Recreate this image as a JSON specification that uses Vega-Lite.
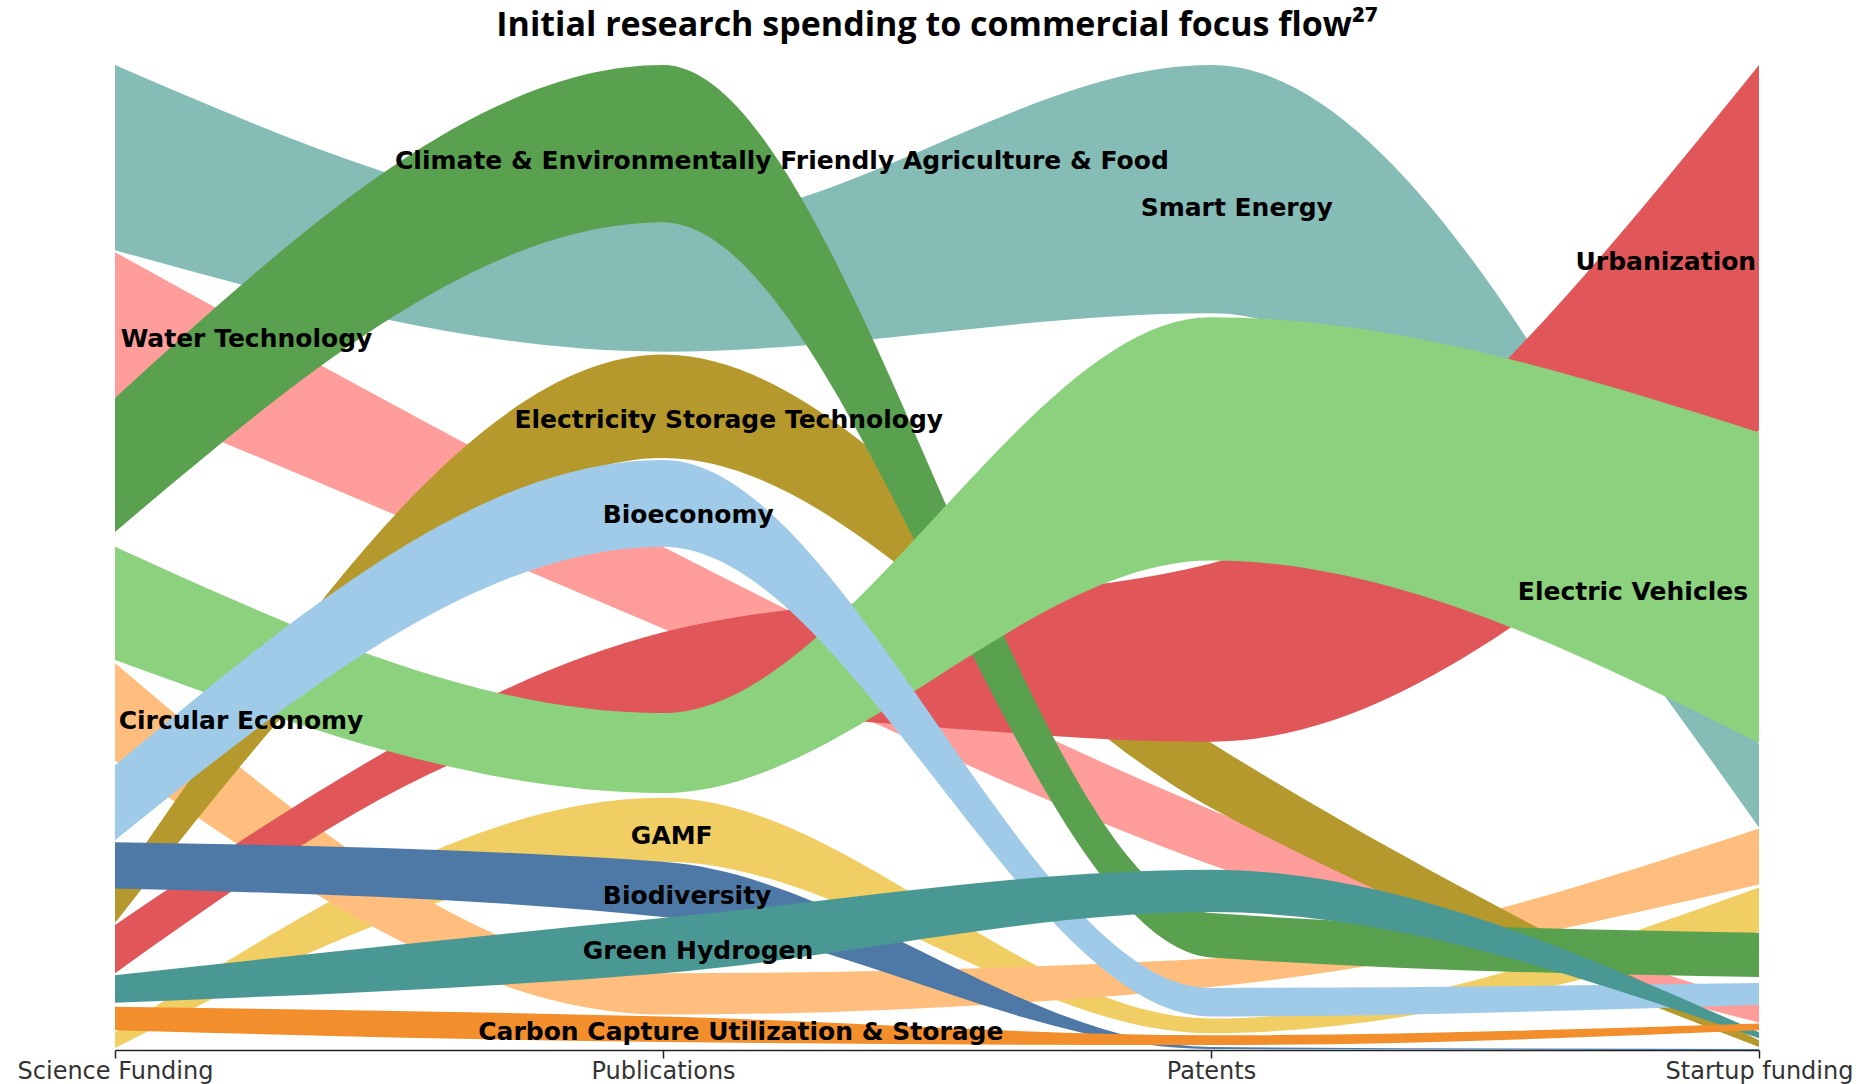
{
  "$schema": "https://vega.github.io/schema/vega-lite/v6.json",
  "width": 1644,
  "height": 985,
  "autosize": {"type": "none"},
  "padding": {"top": 65, "left": 115, "right": 114, "bottom": 34},
  "background": "white",
  "title": {
    "text": "Initial research spending to commercial focus flow²⁷",
    "font": "Open Sans",
    "fontSize": 34,
    "fontWeight": "bold",
    "color": "#000000",
    "anchor": "middle",
    "baseline": "alphabetic",
    "offset": -5
  },
  "config": {"view": {"stroke": null}},
  "datasets": {
    "flows": [
      {"focus": "Smart Energy", "stage": 0, "high": 100, "low": 81.2},
      {"focus": "Smart Energy", "stage": 1, "high": 84.0, "low": 70.9},
      {"focus": "Smart Energy", "stage": 2, "high": 100, "low": 74.8},
      {"focus": "Smart Energy", "stage": 3, "high": 31.0, "low": 22.6},
      {"focus": "GAMF", "stage": 0, "high": 1.8, "low": 0.2},
      {"focus": "GAMF", "stage": 1, "high": 25.6, "low": 19.1},
      {"focus": "GAMF", "stage": 2, "high": 3.2, "low": 1.7},
      {"focus": "GAMF", "stage": 3, "high": 16.5, "low": 12.0},
      {"focus": "Circular Economy", "stage": 0, "high": 39.3, "low": 29.4},
      {"focus": "Circular Economy", "stage": 1, "high": 7.8, "low": 3.6},
      {"focus": "Circular Economy", "stage": 2, "high": 9.3, "low": 6.4},
      {"focus": "Circular Economy", "stage": 3, "high": 22.5, "low": 16.8},
      {"focus": "Water Technology", "stage": 0, "high": 81.0, "low": 66.3},
      {"focus": "Water Technology", "stage": 1, "high": 51.1, "low": 42.8},
      {"focus": "Water Technology", "stage": 2, "high": 24.4, "low": 18.8},
      {"focus": "Water Technology", "stage": 3, "high": 4.6, "low": 2.8},
      {"focus": "Electricity Storage Technology", "stage": 0, "high": 16.4, "low": 12.9},
      {"focus": "Electricity Storage Technology", "stage": 1, "high": 70.6, "low": 60.1},
      {"focus": "Electricity Storage Technology", "stage": 2, "high": 31.2, "low": 24.6},
      {"focus": "Electricity Storage Technology", "stage": 3, "high": 1.0, "low": 0.3},
      {"focus": "Urbanization", "stage": 0, "high": 12.7, "low": 7.8},
      {"focus": "Urbanization", "stage": 1, "high": 42.4, "low": 34.2},
      {"focus": "Urbanization", "stage": 2, "high": 49.4, "low": 31.3},
      {"focus": "Urbanization", "stage": 3, "high": 100, "low": 62.9},
      {"focus": "Climate & Environmentally Friendly Agriculture & Food", "stage": 0, "high": 66.2, "low": 52.6},
      {"focus": "Climate & Environmentally Friendly Agriculture & Food", "stage": 1, "high": 100, "low": 84.0},
      {"focus": "Climate & Environmentally Friendly Agriculture & Food", "stage": 2, "high": 13.9, "low": 9.4},
      {"focus": "Climate & Environmentally Friendly Agriculture & Food", "stage": 3, "high": 11.9, "low": 7.4},
      {"focus": "Electric Vehicles", "stage": 0, "high": 51.1, "low": 39.6},
      {"focus": "Electric Vehicles", "stage": 1, "high": 34.2, "low": 26.1},
      {"focus": "Electric Vehicles", "stage": 2, "high": 74.4, "low": 49.7},
      {"focus": "Electric Vehicles", "stage": 3, "high": 62.7, "low": 31.2},
      {"focus": "Bioeconomy", "stage": 0, "high": 28.9, "low": 21.3},
      {"focus": "Bioeconomy", "stage": 1, "high": 59.9, "low": 51.1},
      {"focus": "Bioeconomy", "stage": 2, "high": 6.3, "low": 3.4},
      {"focus": "Bioeconomy", "stage": 3, "high": 6.8, "low": 4.6},
      {"focus": "Biodiversity", "stage": 0, "high": 21.1, "low": 16.4},
      {"focus": "Biodiversity", "stage": 1, "high": 19.1, "low": 13.5},
      {"focus": "Biodiversity", "stage": 2, "high": 0.3, "low": 0.1},
      {"focus": "Biodiversity", "stage": 3, "high": 0.1, "low": 0.0},
      {"focus": "Green Hydrogen", "stage": 0, "high": 7.6, "low": 4.8},
      {"focus": "Green Hydrogen", "stage": 1, "high": 13.4, "low": 7.8},
      {"focus": "Green Hydrogen", "stage": 2, "high": 18.3, "low": 14.0},
      {"focus": "Green Hydrogen", "stage": 3, "high": 1.8, "low": 1.2},
      {"focus": "Carbon Capture Utilization & Storage", "stage": 0, "high": 4.4, "low": 2.0},
      {"focus": "Carbon Capture Utilization & Storage", "stage": 1, "high": 3.4, "low": 0.8},
      {"focus": "Carbon Capture Utilization & Storage", "stage": 2, "high": 1.5, "low": 0.5},
      {"focus": "Carbon Capture Utilization & Storage", "stage": 3, "high": 2.7, "low": 2.0}
    ],
    "labels": [
      {"label": "Climate & Environmentally Friendly Agriculture & Food", "lx": 1.217, "ly": 90.3},
      {"label": "Smart Energy", "lx": 2.047, "ly": 85.5},
      {"label": "Urbanization", "lx": 2.83, "ly": 80.0},
      {"label": "Water Technology", "lx": 0.24, "ly": 72.2},
      {"label": "Electricity Storage Technology", "lx": 1.12, "ly": 64.0},
      {"label": "Bioeconomy", "lx": 1.046, "ly": 54.3},
      {"label": "Electric Vehicles", "lx": 2.77, "ly": 46.5},
      {"label": "Circular Economy", "lx": 0.23, "ly": 33.4},
      {"label": "GAMF", "lx": 1.016, "ly": 21.7},
      {"label": "Biodiversity", "lx": 1.044, "ly": 15.6},
      {"label": "Green Hydrogen", "lx": 1.064, "ly": 10.1},
      {"label": "Carbon Capture Utilization & Storage", "lx": 1.142, "ly": 1.8}
    ]
  },
  "layer": [
    {
      "data": {"name": "flows"},
      "mark": {"type": "area", "interpolate": "monotone", "opacity": 1},
      "encoding": {
        "x": {
          "field": "stage",
          "type": "quantitative",
          "scale": {"domain": [0, 3], "nice": false, "zero": false},
          "axis": {
            "values": [0, 1, 2, 3],
            "labelExpr": "['Science Funding','Publications','Patents','Startup funding'][datum.value]",
            "title": null,
            "grid": false,
            "domainColor": "#222222",
            "domainWidth": 1.5,
            "tickColor": "#222222",
            "tickWidth": 1.5,
            "tickSize": 8,
            "labelFont": "DejaVu Sans",
            "labelFontSize": 24,
            "labelColor": "#333333",
            "labelPadding": 1,
            "labelLimit": 0,
            "labelFlush": false,
            "labelOverlap": false
          }
        },
        "y": {
          "field": "high",
          "type": "quantitative",
          "scale": {"domain": [0, 100], "nice": false},
          "axis": null
        },
        "y2": {"field": "low"},
        "color": {
          "field": "focus",
          "type": "nominal",
          "legend": null,
          "scale": {
            "domain": [
              "Smart Energy", "GAMF", "Circular Economy", "Water Technology",
              "Electricity Storage Technology", "Urbanization",
              "Climate & Environmentally Friendly Agriculture & Food",
              "Electric Vehicles", "Bioeconomy", "Biodiversity",
              "Green Hydrogen", "Carbon Capture Utilization & Storage"
            ],
            "range": [
              "#86BCB6", "#F1CE63", "#FFBE7D", "#FF9D9A",
              "#B6992D", "#E15759",
              "#59A14F",
              "#8CD17D", "#A0CBE8", "#4E79A7",
              "#499894", "#F28E2B"
            ]
          }
        }
      }
    },
    {
      "data": {"name": "labels"},
      "mark": {
        "type": "text",
        "font": "DejaVu Sans",
        "fontWeight": "bold",
        "fontSize": 25,
        "color": "#000000",
        "align": "center",
        "baseline": "middle"
      },
      "encoding": {
        "x": {"field": "lx", "type": "quantitative"},
        "y": {"field": "ly", "type": "quantitative"},
        "text": {"field": "label"}
      }
    }
  ]
}
